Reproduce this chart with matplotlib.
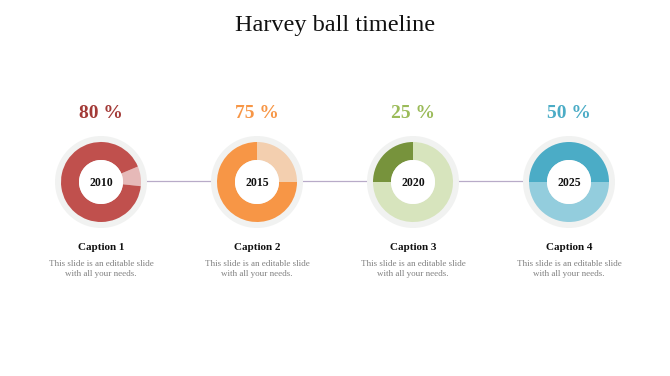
import matplotlib
matplotlib.use("Agg")
import matplotlib.pyplot as plt
from matplotlib.patches import Circle

# ---- data ----
years = ["2010", "2015", "2020", "2025"]
pct_labels = [80, 75, 25, 50]
captions = ["Caption 1", "Caption 2", "Caption 3", "Caption 4"]
body_lines = ["This slide is an editable slide", "with all your needs."]
# wedge shares as drawn: (dark share, light share)
dark_share = [0.92, 0.75, 0.25, 0.50]
light_share = [0.08, 0.25, 0.75, 0.50]
dark_colors = ["#C0504D", "#F79646", "#77933C", "#4BACC6"]
light_colors = ["#E6B9B8", "#F3CFAF", "#D7E4BD", "#93CDDD"]
pct_colors = ["#A33A37", "#F79646", "#9BBB59", "#4BACC6"]

W, H = 670, 376
fig = plt.figure(figsize=(W / 100, H / 100), dpi=100)
ax = fig.add_axes([0, 0, 1, 1])
ax.axis("off")

serif = ["Liberation Serif", "DejaVu Serif"]
xs = [101, 257, 413, 569]
cy = H - 182

ax.plot([xs[0], xs[-1]], [cy + 1, cy + 1], color="#B8ABC8", lw=0.9, zorder=1)

for i, x in enumerate(xs):
    ax.add_patch(Circle((x, cy), 46, facecolor="#F1F2F1", edgecolor="none", zorder=2))
    if i == 0:
        vals = [light_share[i], dark_share[i]]
        cols = [light_colors[i], dark_colors[i]]
        start = -6
    elif i == 1:
        vals = [light_share[i], dark_share[i]]
        cols = [light_colors[i], dark_colors[i]]
        start = 0
    elif i == 2:
        vals = [dark_share[i], light_share[i]]
        cols = [dark_colors[i], light_colors[i]]
        start = 90
    else:
        vals = [dark_share[i], light_share[i]]
        cols = [dark_colors[i], light_colors[i]]
        start = 0
    wedges, _ = ax.pie(vals, colors=cols, center=(x, cy), radius=40, startangle=start,
                       counterclock=True, wedgeprops=dict(width=18, edgecolor="none"),
                       frame=True)
    for w in wedges:
        w.set_zorder(3)
    ax.add_patch(Circle((x, cy), 22, facecolor="white", edgecolor="none", zorder=3.5))
    ax.text(x, cy - 1, years[i], ha="center", va="center", fontsize=8.5, fontweight="bold",
            family=serif, color="#111111", zorder=4)
    ax.text(x, H - 113, f"{pct_labels[i]} %", ha="center", va="center", fontsize=14,
            fontweight="bold", family=serif, color=pct_colors[i])
    ax.text(x, H - 248, captions[i], ha="center", va="center", fontsize=8,
            fontweight="bold", family=serif, color="#111111")
    for k, line in enumerate(body_lines):
        ax.text(x, H - 263.5 - 10.5 * k, line, ha="center", va="center", fontsize=6.5,
                family=serif, color="#808080")

ax.text(W / 2, H - 25, "Harvey ball timeline", ha="center", va="center", fontsize=17.5,
        family=serif, color="#111111")

ax.set_xlim(0, W)
ax.set_ylim(0, H)
ax.set_aspect("equal", adjustable="box")
ax.axis("off")
ax.set_position([0, 0, 1, 1])

fig.savefig("out.png", dpi=100, facecolor="white")
